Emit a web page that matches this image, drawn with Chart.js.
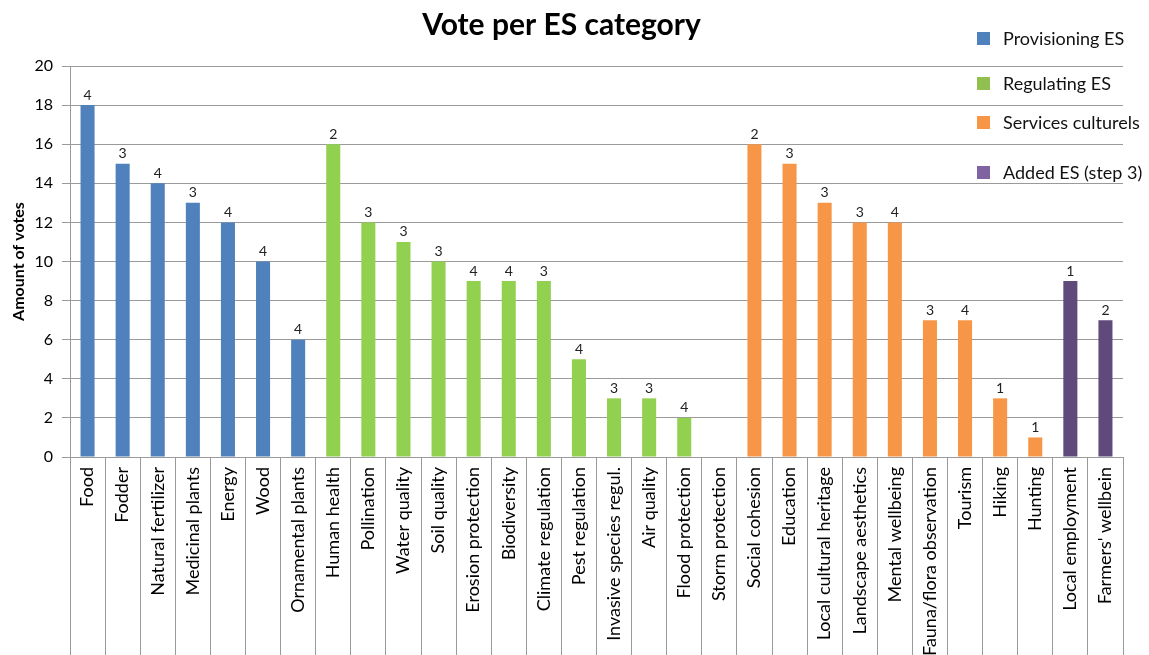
<!DOCTYPE html>
<html>
<head>
<meta charset="utf-8">
<script src="https://cdn.jsdelivr.net/npm/chart.js@4.4.1/dist/chart.umd.min.js"></script>
<style>
    html, body { margin: 0; padding: 0; background: #fff; }
    #wrap { width: 1149px; height: 655px; }
</style>
</head>
<body>
<div id="wrap"><canvas id="myChart"></canvas></div>
<script>
const categories = [
    'Food', 'Fodder', 'Natural fertilizer', 'Medicinal plants', 'Energy', 'Wood', 'Ornamental plants',
    'Human health', 'Pollination', 'Water quality', 'Soil quality', 'Erosion protection', 'Biodiversity',
    'Climate regulation', 'Pest regulation', 'Invasive species regul.', 'Air quality', 'Flood protection',
    'Storm protection',
    'Social cohesion', 'Education', 'Local cultural heritage', 'Landscape aesthetics', 'Mental wellbeing',
    'Fauna/flora observation', 'Tourism', 'Hiking', 'Hunting',
    'Local employment', "Farmers' wellbein"
];
const votes = [18, 15, 14, 13, 12, 10, 6, 16, 12, 11, 10, 9, 9, 9, 5, 3, 3, 2, 0, 16, 15, 13, 12, 12, 7, 7, 3, 1, 9, 7];
// numbers printed above the bars
const barNotes = [4, 3, 4, 3, 4, 4, 4, 2, 3, 3, 3, 4, 4, 3, 4, 3, 3, 4, null, 2, 3, 3, 3, 4, 3, 4, 1, 1, 1, 2];
// 0 provisioning, 1 regulating, 2 cultural, 3 added
const groups = [0, 0, 0, 0, 0, 0, 0, 1, 1, 1, 1, 1, 1, 1, 1, 1, 1, 1, 1, 2, 2, 2, 2, 2, 2, 2, 2, 2, 3, 3];
const groupNames = ['Provisioning ES', 'Regulating ES', 'Services culturels', 'Added ES (step 3)'];
const groupColors = ['#4F81BD', '#92D050', '#F79646', '#604A7B'];
const legendColors = ['#4F81BD', '#92C050', '#F79646', '#8064A2'];
const yTicks = [0, 2, 4, 6, 8, 10, 12, 14, 16, 18, 20];

const FONT = 'Lato, "Open Sans", sans-serif';
const gridColor = '#9a9a9a';

const datasets = groupNames.map((name, g) => ({
    label: name,
    data: votes.map((v, i) => groups[i] === g ? v : null),
    backgroundColor: groupColors[g],
    barPercentage: 0.4,
    categoryPercentage: 1
}));

const barNotesPlugin = {
    id: 'barNotes',
    afterDatasetsDraw(chart) {
        const ctx = chart.ctx;
        ctx.save();
        ctx.font = '14px ' + FONT;
        ctx.fillStyle = '#222';
        ctx.textAlign = 'center';
        ctx.textBaseline = 'bottom';
        chart.data.datasets.forEach((ds, d) => {
            const meta = chart.getDatasetMeta(d);
            meta.data.forEach((bar, i) => {
                if (groups[i] !== d || barNotes[i] == null) return;
                ctx.fillText(String(barNotes[i]), bar.x, bar.y - 3);
            });
        });
        ctx.restore();
    }
};

// legend sits over the top right of the plot
const sideLegend = {
    id: 'sideLegend',
    afterDraw(chart) {
        const ctx = chart.ctx;
        const x0 = chart.chartArea.right - 146;
        const top = chart.chartArea.top;
        const rows = [top - 27, top + 18, top + 57, top + 107];
        ctx.save();
        ctx.font = '18px ' + FONT;
        ctx.textBaseline = 'middle';
        groupNames.forEach((name, g) => {
            ctx.fillStyle = legendColors[g];
            ctx.fillRect(x0, rows[g] - 7, 13, 13);
            ctx.fillStyle = '#111';
            ctx.fillText(name, x0 + 26, rows[g]);
        });
        ctx.restore();
    }
};

const ctx = document.getElementById('myChart').getContext('2d');
const myChart = new Chart(ctx, {
    type: 'bar',
    data: {
        labels: categories,
        datasets: datasets
    },
    options: {
        responsive: true,
        maintainAspectRatio: false,
        animation: false,
        devicePixelRatio: 1,
        layout: { padding: { left: 0, right: 26, top: 0, bottom: 0 } },
        plugins: {
            legend: { display: false },
            tooltip: { enabled: false },
            title: {
                display: true,
                text: 'Vote per ES category',
                color: '#000',
                font: { family: FONT, size: 30, weight: 'bold' },
                padding: { top: 7, bottom: 23 }
            }
        },
        scales: {
            x: {
                stacked: true,
                offset: true,
                grid: {
                    display: true,
                    offset: true,
                    drawOnChartArea: false,
                    tickLength: 198,
                    color: gridColor
                },
                border: { display: true, color: gridColor },
                ticks: {
                    autoSkip: false,
                    minRotation: 90,
                    maxRotation: 90,
                    padding: -188,
                    color: '#000',
                    font: { family: FONT, size: 18 }
                },
                afterFit: scale => { scale.height = 198; }
            },
            y: {
                stacked: true,
                min: 0,
                max: 20,
                afterBuildTicks: scale => { scale.ticks = yTicks.map(v => ({ value: v })); },
                grid: { color: gridColor, tickLength: 8 },
                border: { display: true, color: gridColor },
                ticks: {
                    padding: 9,
                    color: '#000',
                    font: { family: FONT, size: 16 }
                },
                title: {
                    display: true,
                    text: 'Amount of votes',
                    color: '#000',
                    font: { family: FONT, size: 16, weight: 'bold' },
                    padding: { top: 9, bottom: 0 }
                },
                afterFit: scale => { scale.width = 70; }
            }
        }
    },
    plugins: [barNotesPlugin, sideLegend]
});
</script>
</body>
</html>
